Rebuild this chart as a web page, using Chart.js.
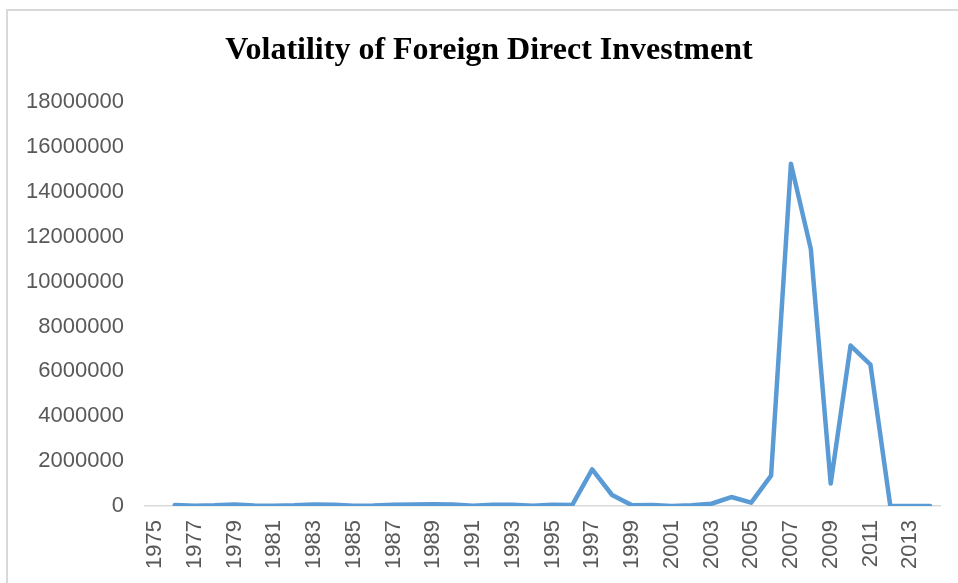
<!DOCTYPE html>
<html>
<head>
<meta charset="utf-8">
<script src="https://cdn.jsdelivr.net/npm/chart.js@4"></script>
<style>
  html, body { margin: 0; padding: 0; background: #fff; }
  #wrap { position: relative; width: 958px; height: 583px; overflow: hidden; }
  #frame { position: absolute; left: 6px; top: 9px; width: 980px; height: 600px;
           border-left: 2px solid #d9d9d9; border-top: 2px solid #d9d9d9; }
  #title { position: absolute; left: 0; width: 978px; top: 30px; text-align: center;
           font-family: "Liberation Serif", "Times New Roman", serif; font-weight: bold;
           font-size: 32px; color: #000; }
  #chart { position: absolute; left: 0; top: 0; }
</style>
</head>
<body>
<div id="wrap">
  <div id="frame"></div>
  <canvas id="chart" width="958" height="583"></canvas>
  <div id="title">Volatility of Foreign Direct Investment</div>
</div>
<script>
// Años (categorías del eje X)
const years = [];
for (let y = 1975; y <= 2014; y++) years.push(String(y));

// Volatilidad de la IED (1975 sin dato)
const fdiVolatility = [
  null, 50000, 10000, 30000, 70000, 20000, 10000, 30000, 70000, 60000,
  10000, 20000, 60000, 70000, 80000, 70000, 10000, 60000, 60000, 10000,
  60000, 50000, 1630000, 490000, 30000, 40000, 0, 30000, 100000, 400000,
  150000, 1350000, 15250000, 11450000, 1000000, 7150000, 6300000, 0, 0, 0
];

// Marcas del eje Y
const yMax = 18000000;
const yStep = 2000000;

const ctx = document.getElementById('chart');
new Chart(ctx.getContext('2d'), {
  type: 'line',
  data: {
    labels: years,
    datasets: [{
      label: 'FDI volatility',
      data: fdiVolatility,
      borderColor: '#5b9bd5',
      borderWidth: 4.5,
      pointRadius: 0,
      tension: 0,
      borderJoinStyle: 'round',
      borderCapStyle: 'round',
      spanGaps: false
    }]
  },
  options: {
    responsive: false,
    animation: false,
    layout: { padding: { left: 0, top: 102, right: 18, bottom: 0 } },
    plugins: { legend: { display: false }, title: { display: false }, tooltip: { enabled: false } },
    scales: {
      x: {
        offset: true,
        grid: { display: false, drawTicks: false },
        border: { display: true, color: '#d9d9d9', width: 1.5 },
        ticks: {
          autoSkip: false,
          minRotation: 90,
          maxRotation: 90,
          padding: 14,
          color: '#595959',
          font: { family: 'Liberation Sans', size: 22 },
          callback: function(val, i) { return i % 2 === 0 ? this.getLabelForValue(val) : ''; }
        },
        afterFit: (scale) => {
          scale.height = 77;
          scale.paddingLeft = 0;
          scale.paddingRight = 0;
        }
      },
      y: {
        min: 0,
        max: yMax,
        grid: { display: false, drawTicks: false },
        border: { display: false },
        ticks: {
          stepSize: yStep,
          padding: 21,
          color: '#595959',
          font: { family: 'Liberation Sans', size: 22 },
          callback: (v) => String(v)
        },
        afterFit: (scale) => { scale.width = 145; }
      }
    }
  }
});
</script>
</body>
</html>
